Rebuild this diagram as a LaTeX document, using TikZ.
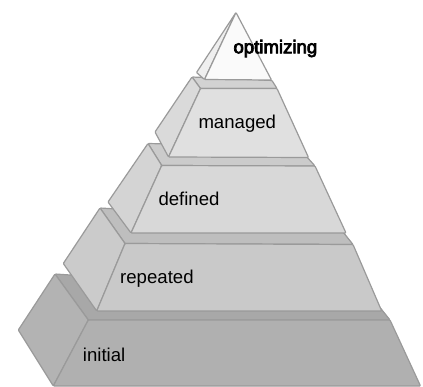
\documentclass[tikz,border=0pt]{standalone}
\usepackage{fontspec}
\setmainfont{Liberation Sans}
\newfontfamily\heavyfont[FakeBold=4]{Liberation Sans}
\definecolor{edgegray}{HTML}{9A9A9A}
% face colours, tier by tier (front / side / top)
\definecolor{optFront}{HTML}{FAFAFA}
\definecolor{optSide}{HTML}{EFEFEF}
\definecolor{manFront}{HTML}{E0E0E0}
\definecolor{manSide}{HTML}{DADADA}
\definecolor{manTop}{HTML}{D2D2D2}
\definecolor{defFront}{HTML}{D8D8D8}
\definecolor{defSide}{HTML}{D4D4D4}
\definecolor{defTop}{HTML}{CBCBCB}
\definecolor{repFront}{HTML}{C9C9C9}
\definecolor{repSide}{HTML}{CBCBCB}
\definecolor{repTop}{HTML}{BEBEBE}
\definecolor{iniFront}{HTML}{B0B0B0}
\definecolor{iniSide}{HTML}{B3B3B3}
\definecolor{iniTop}{HTML}{A8A8A8}
\begin{document}
\begin{tikzpicture}[x=1pt,y=-1pt,
  face/.style={draw=edgegray, line width=1.2pt, line join=round, rounded corners=0.8pt},
  tiertext/.style={font=\fontsize{18.6}{20}\selectfont, anchor=base west, inner sep=0pt, text=black}]
\useasboundingbox (0,0) rectangle (423,387);

% ---- initial (bottom tier)
\coordinate (iBK) at (55,274);
\coordinate (iBTR) at (370,295);
\coordinate (iTL) at (88.3,320);
\coordinate (iTR) at (390,320);
\coordinate (iBR) at (420.5,386);
\coordinate (iBL) at (53.3,386);
\coordinate (iD) at (18.3,330);
\fill[iniTop, face] (iBK) -- (iBTR) -- (iTR) -- (iTL) -- cycle;
\fill[iniSide, face] (iBK) -- (iTL) -- (iBL) -- (iD) -- cycle;
\fill[iniFront, face] (iTL) -- (iTR) -- (iBR) -- (iBL) -- cycle;

% ---- repeated
\coordinate (rBK) at (100,208);
\coordinate (rBTR) at (335,222);
\coordinate (rTL) at (125,243.5);
\coordinate (rTR) at (353,244.5);
\coordinate (rBR) at (381.7,311);
\coordinate (rBL) at (96.7,311);
\coordinate (rD) at (63.3,263.5);
\fill[repTop, face] (rBK) -- (rBTR) -- (rTR) -- (rTL) -- cycle;
\fill[repSide, face] (rBK) -- (rTL) -- (rBL) -- (rD) -- cycle;
\fill[repFront, face] (rTL) -- (rTR) -- (rBR) -- (rBL) -- cycle;

% ---- defined
\coordinate (dBK) at (148,143.5);
\coordinate (dBTR) at (298,147);
\coordinate (dTL) at (161.7,165.5);
\coordinate (dTR) at (315,166);
\coordinate (dBR) at (346,233);
\coordinate (dBL) at (131,233);
\coordinate (dD) at (108,202);
\fill[defTop, face] (dBK) -- (dBTR) -- (dTR) -- (dTL) -- cycle;
\fill[defSide, face] (dBK) -- (dTL) -- (dBL) -- (dD) -- cycle;
\fill[defFront, face] (dTL) -- (dTR) -- (dBR) -- (dBL) -- cycle;

% ---- managed
\coordinate (mBK) at (192,77);
\coordinate (mBTR) at (272,80.5);
\coordinate (mTL) at (200.5,88.5);
\coordinate (mTR) at (277,88.5);
\coordinate (mBR) at (308.5,157.5);
\coordinate (mBL) at (168.5,157);
\coordinate (mD) at (155,132);
\fill[manTop, face] (mBK) -- (mBTR) -- (mTR) -- (mTL) -- cycle;
\fill[manSide, face] (mBK) -- (mTL) -- (mBL) -- (mD) -- cycle;
\fill[manFront, face] (mTL) -- (mTR) -- (mBR) -- (mBL) -- cycle;

% ---- optimizing (apex)
\coordinate (oA) at (236,12.5);
\coordinate (oS) at (196.5,72.5);
\coordinate (oL) at (204.5,79.5);
\coordinate (oR) at (271.5,80);
\fill[optSide, face] (oA) -- (oS) -- (oL) -- cycle;
\fill[optFront, face] (oA) -- (oR) -- (oL) -- cycle;

% ---- tier names
\node[tiertext, font=\heavyfont\fontsize{18.6}{20}\selectfont] (tOpt) at (233.3,53.3) {optimizing};
\node[tiertext] (tMan) at (198.3,128.3) {managed};
\node[tiertext] (tDef) at (158.3,206) {defined};
\node[tiertext] (tRep) at (120,283.3) {repeated};
\node[tiertext] (tIni) at (82.7,361.7) {initial};
\end{tikzpicture}
\end{document}
